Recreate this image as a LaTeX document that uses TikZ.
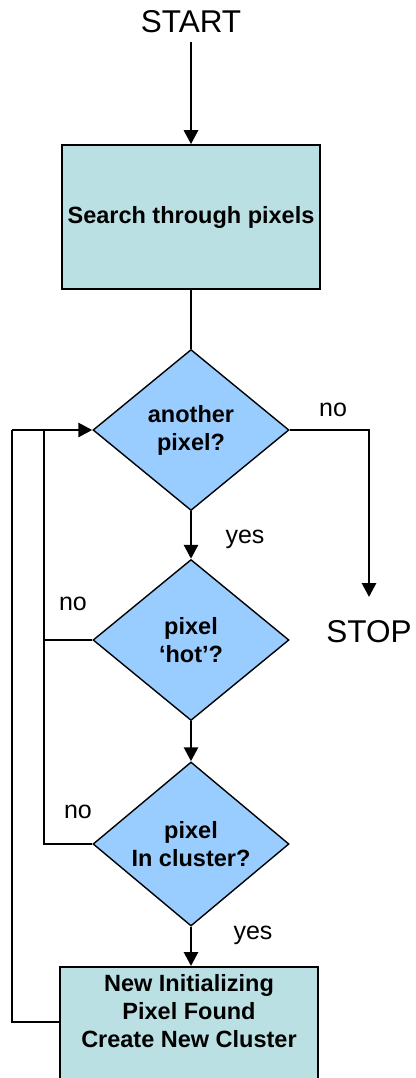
\documentclass[tikz,border=0pt]{standalone}
\usepackage{fontspec}
\setmainfont{Liberation Sans}
\usetikzlibrary{shapes.geometric,arrows.meta,calc}
\definecolor{boxfill}{HTML}{BAE0E3}
\definecolor{dfill}{HTML}{99CCFF}
\begin{document}
\begin{tikzpicture}[x=1pt,y=-1pt,
 flow/.style={line width=2.8pt},
 arr/.style={flow,-{Triangle[length=14pt,width=14pt]}},
 procbox/.style={draw,line width=1.6pt,fill=boxfill,font=\bfseries\fontsize{23.5}{28}\selectfont,align=center,inner sep=0pt,minimum width=258pt},
 decide/.style={draw,line width=1.4pt,fill=dfill,shape=diamond,minimum width=196pt,minimum height=161pt,inner sep=0pt,font=\bfseries\fontsize{23.5}{28}\selectfont,align=center},
 lbl/.style={font=\fontsize{25}{28}\selectfont,inner sep=0pt},
 term/.style={font=\fontsize{31.5}{34}\selectfont,inner sep=0pt}]
\clip (0,0) rectangle (415,1078);
\useasboundingbox (0,0) rectangle (415,1078);
\node[term] (start) at (191,22) {START};
\node[procbox,minimum height=144pt] (search) at (191,217) {Search through pixels};
\node[decide] (d1) at (191,430) {another\\pixel?};
\node[decide] (d2) at (191,640) {pixel\\‘hot’?};
\node[decide] (d3) at (191,844) {pixel\\In cluster?};
\node[procbox,anchor=north,text height=81pt,text depth=54pt] (create) at (189,966) {New Initializing\\Pixel Found\\Create New Cluster};
\node[term] (stop) at (369,632) {STOP};
\coordinate (stopin) at (369,597);
\coordinate (inL) at (44,430);
\coordinate (outL) at (12,430);
\coordinate (cw) at ($(create.north west)+(0,56)$);
\draw[arr] ([yshift=-20pt]start.center) -- (search.north);
\draw[flow] (search.south) -- (d1.north);
\draw[arr] (d1.south) -- (d2.north);
\draw[arr] (d2.south) -- (d3.north);
\draw[arr] (d3.south) -- (d3.south |- create.north);
\draw[arr] (d1.east) -| (stopin);
\draw[flow] (d2.west) -| (inL);
\draw[flow] (d3.west) -| (inL);
\draw[flow] (cw) -| (outL);
\draw[arr] (outL) -- (d1.west);
\node[lbl] (no1) at (333,410) {no};
\node[lbl] (yes1) at (245,539) {yes};
\node[lbl] (no2) at (73,604) {no};
\node[lbl] (no3) at (78,812) {no};
\node[lbl] (yes2) at (253,935) {yes};
\end{tikzpicture}
\end{document}
